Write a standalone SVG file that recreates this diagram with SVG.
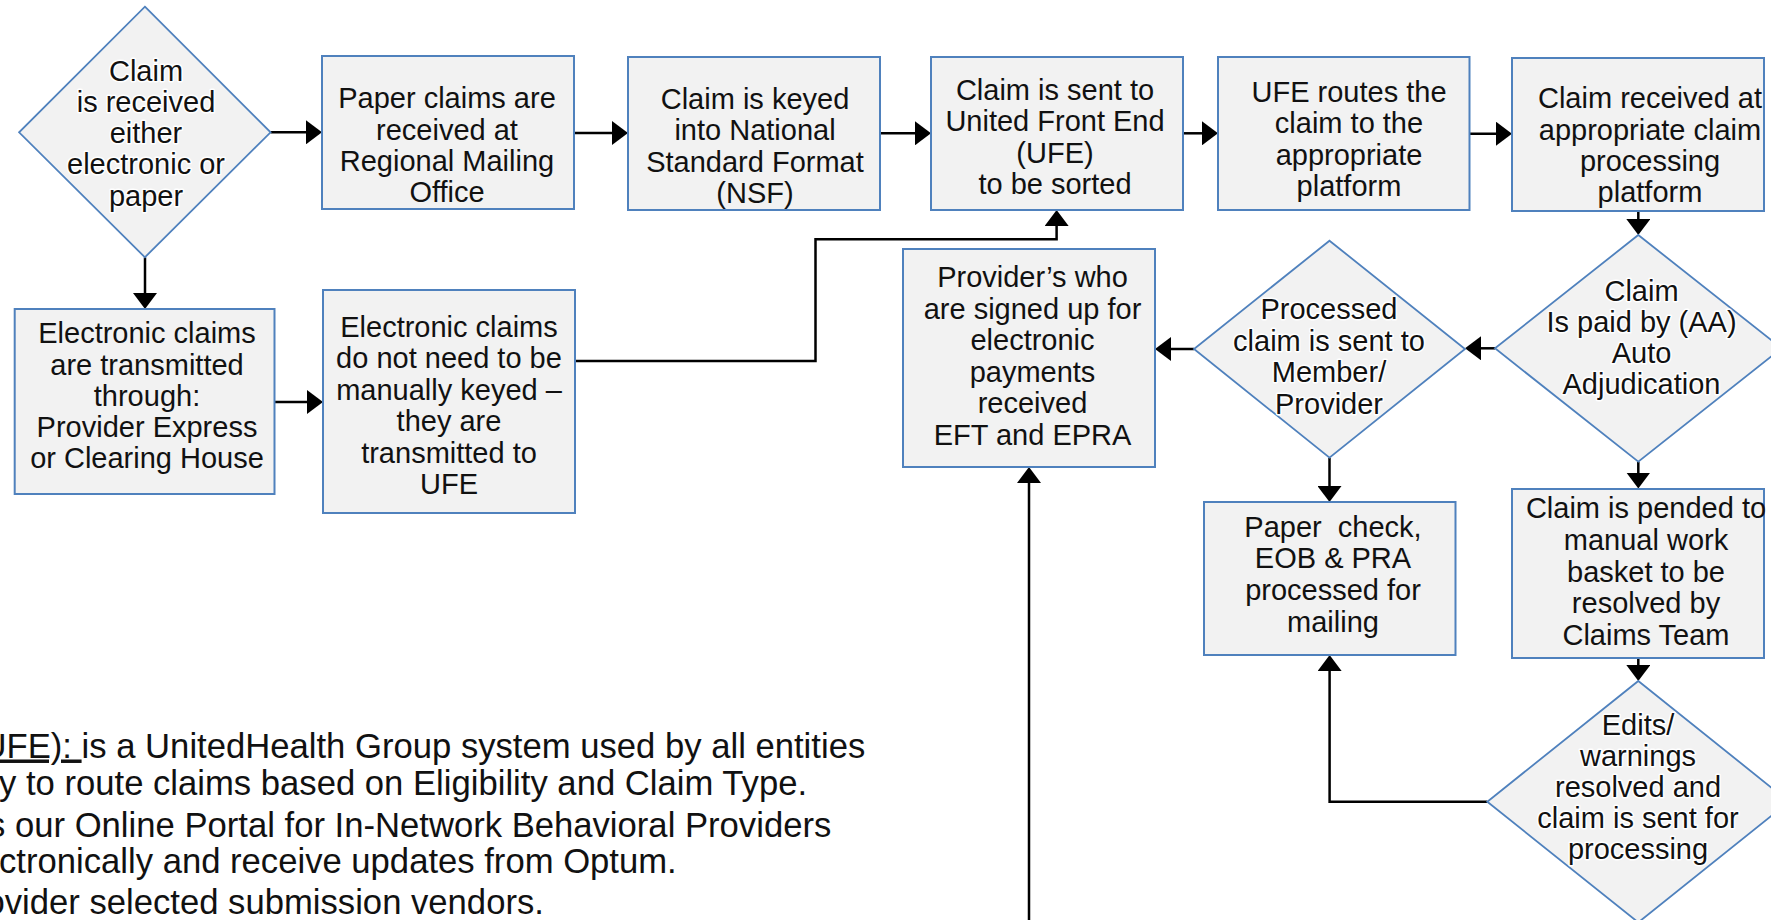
<svg xmlns="http://www.w3.org/2000/svg" width="1771" height="920" viewBox="0 0 1771 920">
<style>
.box{fill:#f2f2f2;stroke:#4f81bd;stroke-width:2}
.dia{fill:#f2f2f2;stroke:#4f81bd;stroke-width:1.8}
.t{font-family:"Liberation Sans",Arial,sans-serif;font-size:29px;fill:#111;text-anchor:middle}
.dt{stroke:#fff;stroke-width:3;paint-order:stroke;stroke-linejoin:round}
.con{fill:none;stroke:#000;stroke-width:2.5;marker-end:url(#ah)}
.note{font-family:"Liberation Sans",Arial,sans-serif;font-size:34.65px;fill:#111}
</style>
<defs>
<marker id="ah" viewBox="0 0 16 24" markerWidth="16" markerHeight="24" refX="10" refY="12" orient="auto" markerUnits="userSpaceOnUse"><path d="M0,0 L16,12 L0,24 Z" fill="#000"/></marker>
</defs>
<rect width="1771" height="920" fill="#fff"/>

<g id="connectors">
<path class="con" d="M270.6,132.3 H316"/>
<path class="con" d="M145,257.3 V303"/>
<path class="con" d="M274.5,402 H317"/>
<path class="con" d="M574,133 H622"/>
<path class="con" d="M880,133.3 H925"/>
<path class="con" d="M1183,133.3 H1212"/>
<path class="con" d="M1469.5,133.7 H1506"/>
<path class="con" d="M575,361 H815.5 V239.3 H1056.6 V216"/>
<path class="con" d="M1638.3,211 V229"/>
<path class="con" d="M1495,348.3 H1471"/>
<path class="con" d="M1194,349 H1161"/>
<path class="con" d="M1329.5,458 V496"/>
<path class="con" d="M1638.3,461.7 V482.5"/>
<path class="con" d="M1638.3,658.3 V675"/>
<path class="con" d="M1487.3,801.7 H1329.6 V661"/>
<path class="con" d="M1029,920 V473"/>
</g>

<g id="n-claim-received">
<polygon class="dia" points="144.9,6.7 270.6,132.3 144.9,257.3 19.1,132.3"/>
<text class="t dt"><tspan x="146" y="80.5">Claim</tspan><tspan x="146" y="111.8">is received</tspan><tspan x="146" y="143.1">either</tspan><tspan x="146" y="174.4">electronic or</tspan><tspan x="146" y="205.7">paper</tspan></text>
</g>

<g id="n-paper-claims">
<rect class="box" x="322" y="56" width="252" height="153"/>
<text class="t"><tspan x="447" y="108.3">Paper claims are</tspan><tspan x="447" y="139.6">received at</tspan><tspan x="447" y="170.9">Regional Mailing</tspan><tspan x="447" y="202.2">Office</tspan></text>
</g>

<g id="n-keyed">
<rect class="box" x="628" y="57" width="252" height="153"/>
<text class="t"><tspan x="755" y="109">Claim is keyed</tspan><tspan x="755" y="140.3">into National</tspan><tspan x="755" y="171.6">Standard Format</tspan><tspan x="755" y="202.9">(NSF)</tspan></text>
</g>

<g id="n-ufe-sent">
<rect class="box" x="931" y="57" width="252" height="153"/>
<text class="t"><tspan x="1055" y="100">Claim is sent to</tspan><tspan x="1055" y="131.3">United Front End</tspan><tspan x="1055" y="162.6">(UFE)</tspan><tspan x="1055" y="193.9">to be sorted</tspan></text>
</g>

<g id="n-ufe-routes">
<rect class="box" x="1218" y="57" width="251.5" height="153"/>
<text class="t"><tspan x="1349" y="101.5">UFE routes the</tspan><tspan x="1349" y="133">claim to the</tspan><tspan x="1349" y="164.5">appropriate</tspan><tspan x="1349" y="196">platform</tspan></text>
</g>

<g id="n-platform">
<rect class="box" x="1512" y="58" width="252" height="153"/>
<text class="t"><tspan x="1650" y="108.3">Claim received at</tspan><tspan x="1650" y="139.6">appropriate claim</tspan><tspan x="1650" y="170.9">processing</tspan><tspan x="1650" y="202.2">platform</tspan></text>
</g>

<g id="n-electronic">
<rect class="box" x="14.7" y="309" width="259.8" height="185"/>
<text class="t"><tspan x="147" y="343.2">Electronic claims</tspan><tspan x="147" y="374.5">are transmitted</tspan><tspan x="147" y="405.7">through:</tspan><tspan x="147" y="437">Provider Express</tspan><tspan x="147" y="468.2">or Clearing House</tspan></text>
</g>

<g id="n-not-keyed">
<rect class="box" x="323" y="290" width="252" height="223"/>
<text class="t"><tspan x="449" y="336.7">Electronic claims</tspan><tspan x="449" y="368.2">do not need to be</tspan><tspan x="449" y="399.7">manually keyed –</tspan><tspan x="449" y="431.2">they are</tspan><tspan x="449" y="462.7">transmitted to</tspan><tspan x="449" y="494.2">UFE</tspan></text>
</g>

<g id="n-eft">
<rect class="box" x="903" y="249" width="252" height="218"/>
<text class="t"><tspan x="1032.5" y="287">Provider’s who</tspan><tspan x="1032.5" y="318.6">are signed up for</tspan><tspan x="1032.5" y="350.2">electronic</tspan><tspan x="1032.5" y="381.8">payments</tspan><tspan x="1032.5" y="413.4">received</tspan><tspan x="1032.5" y="445">EFT and EPRA</tspan></text>
</g>

<g id="n-processed">
<polygon class="dia" points="1329.5,240.7 1465,349 1329.5,457.7 1194,349"/>
<text class="t dt"><tspan x="1329" y="319">Processed</tspan><tspan x="1329" y="350.7">claim is sent to</tspan><tspan x="1329" y="382.4">Member/</tspan><tspan x="1329" y="414">Provider</tspan></text>
</g>

<g id="n-auto-adj">
<polygon class="dia" points="1638.3,235 1781.6,348.3 1638.3,461.7 1495,348.3"/>
<text class="t dt"><tspan x="1641.5" y="300.5">Claim</tspan><tspan x="1641.5" y="331.8">Is paid by (AA)</tspan><tspan x="1641.5" y="363.1">Auto</tspan><tspan x="1641.5" y="394.4">Adjudication</tspan></text>
</g>

<g id="n-paper-check">
<rect class="box" x="1204" y="502" width="251.5" height="153"/>
<text class="t" xml:space="preserve"><tspan x="1333" y="536.7">Paper  check,</tspan><tspan x="1333" y="568.3">EOB &amp; PRA</tspan><tspan x="1333" y="600">processed for</tspan><tspan x="1333" y="631.7">mailing</tspan></text>
</g>

<g id="n-pended">
<rect class="box" x="1512" y="489" width="252" height="169"/>
<text class="t"><tspan x="1646" y="518.3">Claim is pended to</tspan><tspan x="1646" y="550">manual work</tspan><tspan x="1646" y="581.7">basket to be</tspan><tspan x="1646" y="613.3">resolved by</tspan><tspan x="1646" y="645">Claims Team</tspan></text>
</g>

<g id="n-edits">
<polygon class="dia" points="1638.3,681 1789,801.7 1638.3,922.4 1487.3,801.7"/>
<text class="t dt"><tspan x="1638" y="734.5">Edits/</tspan><tspan x="1638" y="765.5">warnings</tspan><tspan x="1638" y="796.5">resolved and</tspan><tspan x="1638" y="827.5">claim is sent for</tspan><tspan x="1638" y="858.5">processing</tspan></text>
</g>

<g id="notes">
<text class="note" x="-18.5" y="757.5"><tspan text-decoration="underline">UFE): </tspan>is a UnitedHealth Group system used by all entities</text>
<text class="note" x="-1" y="795">y to route claims based on Eligibility and Claim Type.</text>
<text class="note" x="-12" y="836.5">s our Online Portal for In-Network Behavioral Providers</text>
<text class="note" x="-1" y="873">ctronically and receive updates from Optum.</text>
<text class="note" x="-14.5" y="914">ovider selected submission vendors.</text>
</g>
</svg>
